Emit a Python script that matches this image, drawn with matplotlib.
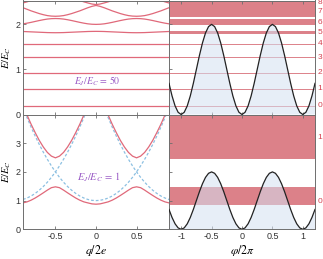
import matplotlib
matplotlib.use("Agg")
import matplotlib.pyplot as plt

# ---------------- data ----------------
q_grid = [-0.9, -0.85, -0.8, -0.75, -0.7, -0.65, -0.6, -0.55, -0.5, -0.45, -0.4, -0.35,
          -0.3, -0.25, -0.2, -0.15, -0.1, -0.05, 0.0, 0.05, 0.1, 0.15, 0.2, 0.25, 0.3,
          0.35, 0.4, 0.45, 0.5, 0.55, 0.6, 0.65, 0.7, 0.75, 0.8, 0.85, 0.9]

# E_J/E_C = 50 : flat bands 0-4
top_flat_levels = [0.18, 0.56, 0.93, 1.27, 1.57]
# dispersive bands 5-8
top_band5 = [1.842, 1.838, 1.834, 1.830, 1.826, 1.822, 1.818, 1.816, 1.815, 1.816, 1.818, 1.822,
             1.826, 1.830, 1.834, 1.838, 1.842, 1.844, 1.845, 1.844, 1.842, 1.838, 1.834, 1.830,
             1.826, 1.822, 1.818, 1.816, 1.815, 1.816, 1.818, 1.822, 1.826, 1.830, 1.834, 1.838, 1.842]
top_band6 = [2.012, 2.027, 2.045, 2.065, 2.085, 2.103, 2.118, 2.127, 2.130, 2.127, 2.118, 2.103,
             2.085, 2.065, 2.045, 2.027, 2.012, 2.003, 2.000, 2.003, 2.012, 2.027, 2.045, 2.065,
             2.085, 2.103, 2.118, 2.127, 2.130, 2.127, 2.118, 2.103, 2.085, 2.065, 2.045, 2.027, 2.012]
top_band7 = [2.370, 2.335, 2.300, 2.270, 2.240, 2.215, 2.195, 2.184, 2.180, 2.184, 2.195, 2.215,
             2.240, 2.270, 2.300, 2.335, 2.370, 2.400, 2.420, 2.400, 2.370, 2.335, 2.300, 2.270,
             2.240, 2.215, 2.195, 2.184, 2.180, 2.184, 2.195, 2.215, 2.240, 2.270, 2.300, 2.335, 2.370]
top_band8 = [2.475, 2.500, 2.530, 2.560, 2.590, 2.620, 2.645, 2.660, 2.665, 2.660, 2.645, 2.620,
             2.590, 2.560, 2.530, 2.500, 2.475, 2.452, 2.440, 2.452, 2.475, 2.500, 2.530, 2.560,
             2.590, 2.620, 2.645, 2.660, 2.665, 2.660, 2.645, 2.620, 2.590, 2.560, 2.530, 2.500, 2.475]

# E_J/E_C = 1 : two lowest bands
bot_band0 = [0.920, 0.956, 1.015, 1.090, 1.178, 1.270, 1.365, 1.450, 1.480, 1.450, 1.365, 1.270,
             1.178, 1.090, 1.015, 0.956, 0.920, 0.886, 0.875, 0.886, 0.920, 0.956, 1.015, 1.090,
             1.178, 1.270, 1.365, 1.450, 1.480, 1.450, 1.365, 1.270, 1.178, 1.090, 1.015, 0.956, 0.920]
bot_band1 = [4.32, 3.98, 3.66, 3.37, 3.10, 2.87, 2.68, 2.55, 2.49, 2.55, 2.68, 2.87,
             3.10, 3.37, 3.66, 3.98, 4.32, 4.68, 4.90, 4.68, 4.32, 3.98, 3.66, 3.37,
             3.10, 2.87, 2.68, 2.55, 2.49, 2.55, 2.68, 2.87, 3.10, 3.37, 3.66, 3.98, 4.32]
# free-charge parabolas (dashed)
free_n0 = [4.24, 3.89, 3.56, 3.25, 2.96, 2.69, 2.44, 2.21, 2.00, 1.81, 1.64, 1.49,
           1.36, 1.25, 1.16, 1.09, 1.04, 1.01, 1.00, 1.01, 1.04, 1.09, 1.16, 1.25,
           1.36, 1.49, 1.64, 1.81, 2.00, 2.21, 2.44, 2.69, 2.96, 3.25, 3.56, 3.89, 4.24]
q_left = q_grid[:19]
q_right = q_grid[18:]
free_nm1 = [1.04, 1.09, 1.16, 1.25, 1.36, 1.49, 1.64, 1.81, 2.00, 2.21, 2.44, 2.69,
            2.96, 3.25, 3.56, 3.89, 4.24, 4.61, 5.00]
free_np1 = [5.00, 4.61, 4.24, 3.89, 3.56, 3.25, 2.96, 2.69, 2.44, 2.21, 2.00, 1.81,
            1.64, 1.49, 1.36, 1.25, 1.16, 1.09, 1.04]

# potential vs phi/2pi
phi_grid = [-1.2, -1.15, -1.1, -1.05, -1.0, -0.95, -0.9, -0.85, -0.8, -0.75, -0.7, -0.65,
            -0.6, -0.55, -0.5, -0.45, -0.4, -0.35, -0.3, -0.25, -0.2, -0.15, -0.1, -0.05,
            0.0, 0.05, 0.1, 0.15, 0.2, 0.25, 0.3, 0.35, 0.4, 0.45, 0.5, 0.55, 0.6, 0.65,
            0.7, 0.75, 0.8, 0.85, 0.9, 0.95, 1.0, 1.05, 1.1, 1.15, 1.2]
potential = [0.691, 0.412, 0.191, 0.049, 0.0, 0.049, 0.191, 0.412, 0.691, 1.0, 1.309, 1.588,
             1.809, 1.951, 2.0, 1.951, 1.809, 1.588, 1.309, 1.0, 0.691, 0.412, 0.191, 0.049,
             0.0, 0.049, 0.191, 0.412, 0.691, 1.0, 1.309, 1.588, 1.809, 1.951, 2.0, 1.951,
             1.809, 1.588, 1.309, 1.0, 0.691, 0.412, 0.191, 0.049, 0.0, 0.049, 0.191, 0.412, 0.691]

top_label_names = ["0", "1", "2", "3", "4", "5", "6", "7", "8"]
top_label_E = [0.19, 0.57, 0.93, 1.27, 1.58, 1.81, 2.04, 2.29, 2.48]
bot_label_names = ["0", "1"]
bot_label_E = [0.96, 3.2]

top_text = r"$E_J/E_C\,=\,50$"
bot_text = r"$E_J/E_C\,=\,1$"

# ---------------- style ----------------
plt.rcParams["font.family"] = ["Liberation Sans", "DejaVu Sans"]
plt.rcParams["mathtext.fontset"] = "stix"
plt.rcParams["axes.unicode_minus"] = False

RED_LINE = "#e0697a"
BAND = "#dc8189"
BLUE = "#8cc0e2"
FILL = "#d4e0f2"
LABEL_RED = "#d6404f"
PURPLE = "#9a5bc6"
SPINE = "#6e6e6e"

W, H = 323, 259
fig = plt.figure(figsize=(W / 100, H / 100), dpi=100)

x_l, x_r = 23 / W, 169 / W
w = 146 / W
y_top, h_top = (259 - 114.5) / H, 114.0 / H
y_bot, h_bot = (259 - 229.3) / H, 114.8 / H

ax_tl = fig.add_axes([x_l, y_top, w, h_top])
ax_tr = fig.add_axes([x_r, y_top, w, h_top])
ax_bl = fig.add_axes([x_l, y_bot, w, h_bot])
ax_br = fig.add_axes([x_r, y_bot, w, h_bot])

for ax in (ax_tl, ax_tr, ax_bl, ax_br):
    for s in ax.spines.values():
        s.set_color(SPINE)
        s.set_linewidth(0.7)
    ax.tick_params(direction="in", length=2.2, width=0.6, colors=SPINE,
                   labelcolor="#333333", labelsize=6.5, pad=2, top=True)

# ---- top-left ----
for lev in top_flat_levels:
    ax_tl.plot([q_grid[0], q_grid[-1]], [lev, lev], color=RED_LINE, lw=0.9)
for band in (top_band5, top_band6, top_band7, top_band8):
    ax_tl.plot(q_grid, band, color=RED_LINE, lw=0.9)
ax_tl.set_xlim(-0.9, 0.9)
ax_tl.set_ylim(0, 2.53)
ax_tl.set_xticks([-0.5, 0, 0.5])
ax_tl.set_xticklabels([])
ax_tl.set_yticks([0, 1, 2])
ax_tl.set_ylabel(r"$E/E_C$", fontsize=7.5)
ax_tl.yaxis.set_label_coords(-0.07, 0.5)
ax_tl.text(0.01, 0.74, top_text, color=PURPLE, fontsize=7, ha="center", va="center")

# ---- bottom-left ----
ax_bl.plot(q_grid, free_n0, color=BLUE, lw=0.9, ls=(0, (2.2, 1.6)))
ax_bl.plot(q_left, free_nm1, color=BLUE, lw=0.9, ls=(0, (2.2, 1.6)))
ax_bl.plot(q_right, free_np1, color=BLUE, lw=0.9, ls=(0, (2.2, 1.6)))
ax_bl.plot(q_grid, bot_band0, color=RED_LINE, lw=0.9)
ax_bl.plot(q_grid, bot_band1, color=RED_LINE, lw=0.9)
ax_bl.set_xlim(-0.9, 0.9)
ax_bl.set_ylim(0, 4)
ax_bl.set_xticks([-0.5, 0, 0.5])
ax_bl.set_xticklabels(["-0.5", "0", "0.5"])
ax_bl.set_yticks([0, 1, 2, 3])
ax_bl.set_ylabel(r"$E/E_C$", fontsize=7.5)
ax_bl.yaxis.set_label_coords(-0.07, 0.5)
ax_bl.set_xlabel(r"$q/2e$", fontsize=8.5, labelpad=1.5)
ax_bl.text(0.03, 1.8, bot_text, color=PURPLE, fontsize=7.5, ha="center", va="center")

# ---- right panels ----
top_bands = [[lev] for lev in top_flat_levels] + [top_band5, top_band6, top_band7, top_band8]
bot_bands = [bot_band0, bot_band1]

def draw_right(ax, bands, ylim, names, label_E):
    for b in bands:
        ax.fill_between([-1.2, 1.2], [min(b)] * 2, [max(b)] * 2, facecolor=BAND,
                        edgecolor=BAND, linewidth=0.7, zorder=1)
    ax.fill_between(phi_grid, 0, potential, facecolor=FILL, alpha=0.55,
                    linewidth=0, zorder=2)
    ax.plot(phi_grid, potential, color="#222222", lw=0.9, zorder=3)
    ax.set_xlim(-1.2, 1.2)
    ax.set_ylim(*ylim)
    ax.set_xticks([-1, -0.5, 0, 0.5, 1])
    ax.tick_params(labelleft=False)
    for n, e in zip(names, label_E):
        ax.annotate(n, xy=(1.0, e), xycoords=("axes fraction", "data"),
                    xytext=(2.0, 0), textcoords="offset points", ha="left", va="center",
                    color=LABEL_RED, fontsize=6, annotation_clip=False)

draw_right(ax_tr, top_bands, (0, 2.53), top_label_names, top_label_E)
ax_tr.set_xticklabels([])
ax_tr.set_yticks([0, 1, 2])

draw_right(ax_br, bot_bands, (0, 4), bot_label_names, bot_label_E)
ax_br.set_xticklabels(["-1", "-0.5", "0", "0.5", "1"])
ax_br.set_yticks([0, 1, 2, 3])
ax_br.set_xlabel(r"$\varphi/2\pi$", fontsize=8.5, labelpad=1.5)

fig.savefig("out.png", dpi=100)
